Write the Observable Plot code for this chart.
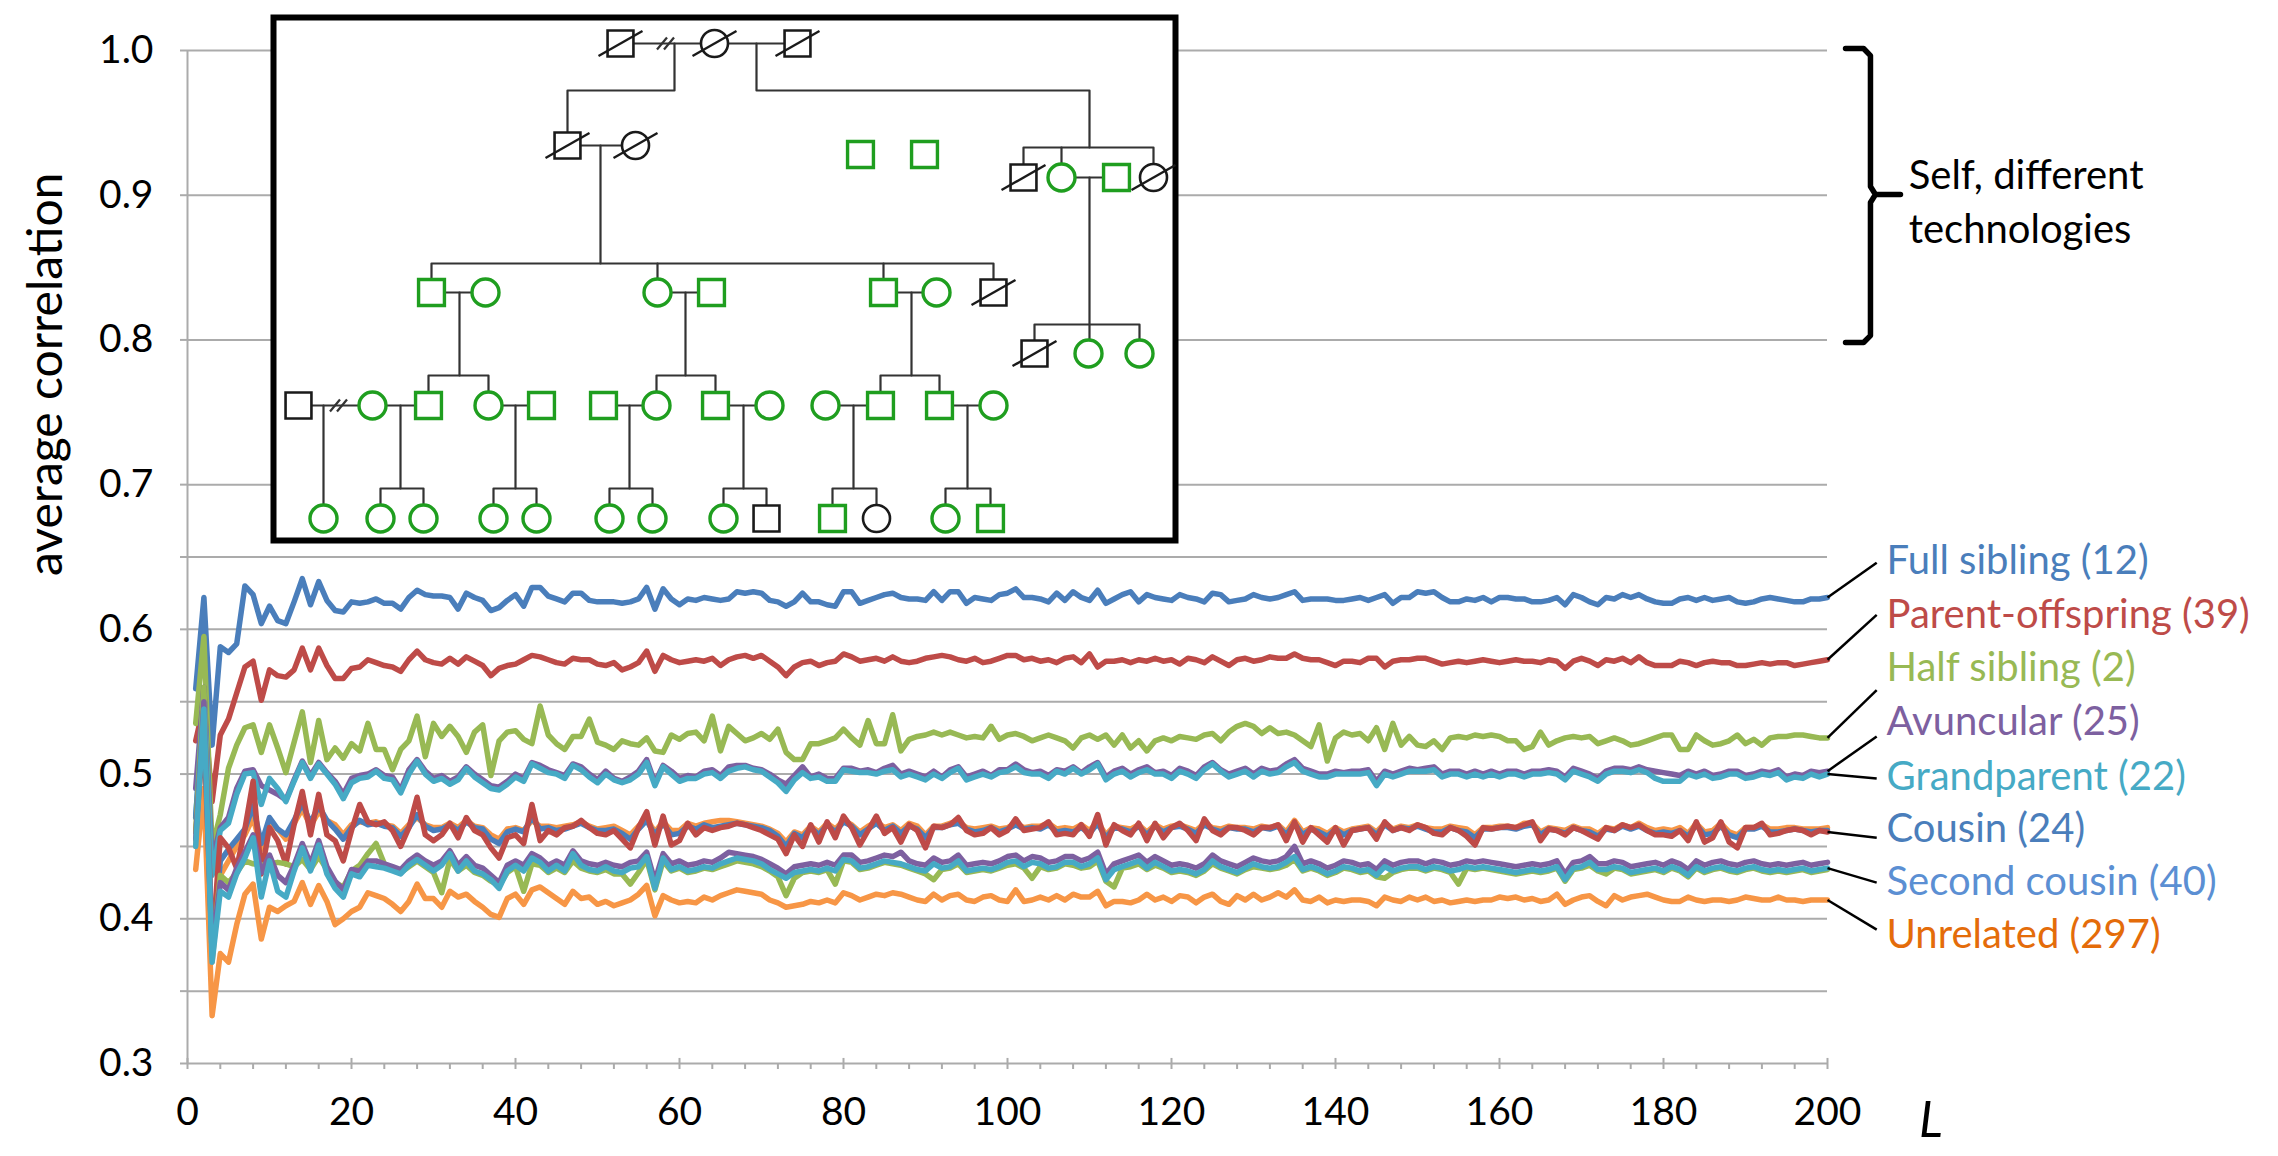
<!DOCTYPE html>
<html><head><meta charset="utf-8">
<script src="https://cdn.jsdelivr.net/npm/d3@7"></script>
<script src="https://cdn.jsdelivr.net/npm/@observablehq/plot@0.6"></script>
<style>
body{margin:0;background:#fff;}
#wrap{position:relative;width:2278px;height:1156px;font-family:Lato,sans-serif;}
#ped{position:absolute;left:273px;top:17px;}
</style></head><body><div id="wrap"><div id="main"></div><div id="ped"></div></div>
<script>
// ---------- data ----------
const L = d3.range(1, 201);

const fullSibling = [
0.559,0.622,0.520,0.588,0.584,0.590,0.630,0.624,0.604,0.616,
0.606,0.604,0.619,0.635,0.617,0.633,0.620,0.613,0.612,0.619,
0.618,0.619,0.621,0.618,0.618,0.614,0.622,0.627,0.624,0.623,
0.623,0.622,0.614,0.625,0.622,0.620,0.613,0.615,0.620,0.624,
0.616,0.629,0.629,0.623,0.621,0.619,0.625,0.625,0.620,0.619,
0.619,0.619,0.618,0.619,0.621,0.629,0.614,0.628,0.621,0.617,
0.621,0.620,0.622,0.621,0.620,0.621,0.626,0.625,0.626,0.625,
0.620,0.619,0.616,0.619,0.625,0.619,0.619,0.617,0.616,0.626,
0.626,0.618,0.620,0.622,0.624,0.625,0.622,0.621,0.621,0.620,
0.626,0.620,0.626,0.626,0.618,0.622,0.621,0.620,0.624,0.625,
0.628,0.622,0.622,0.621,0.619,0.625,0.620,0.626,0.622,0.620,
0.627,0.618,0.621,0.624,0.626,0.619,0.624,0.622,0.621,0.620,
0.624,0.622,0.621,0.619,0.625,0.624,0.619,0.620,0.621,0.624,
0.622,0.621,0.622,0.624,0.626,0.620,0.621,0.621,0.621,0.620,
0.620,0.621,0.622,0.620,0.622,0.624,0.618,0.622,0.622,0.626,
0.625,0.626,0.622,0.619,0.619,0.621,0.620,0.622,0.619,0.622,
0.622,0.621,0.621,0.619,0.619,0.620,0.622,0.617,0.624,0.622,
0.619,0.617,0.622,0.621,0.624,0.622,0.624,0.621,0.619,0.618,
0.618,0.621,0.622,0.620,0.622,0.620,0.621,0.622,0.619,0.618,
0.619,0.621,0.622,0.621,0.620,0.619,0.619,0.621,0.621,0.622];

const parentOffspring = [
0.523,0.548,0.481,0.527,0.538,0.556,0.574,0.578,0.551,0.572,
0.568,0.567,0.572,0.587,0.572,0.587,0.575,0.566,0.566,0.573,
0.574,0.579,0.577,0.575,0.574,0.571,0.579,0.585,0.579,0.577,
0.576,0.580,0.576,0.581,0.578,0.575,0.568,0.573,0.575,0.576,
0.579,0.582,0.581,0.579,0.577,0.576,0.580,0.579,0.579,0.576,
0.575,0.577,0.572,0.574,0.577,0.585,0.571,0.582,0.579,0.577,
0.578,0.579,0.578,0.580,0.575,0.579,0.581,0.582,0.580,0.582,
0.578,0.574,0.568,0.574,0.577,0.578,0.575,0.577,0.578,0.583,
0.581,0.578,0.579,0.580,0.578,0.581,0.578,0.577,0.578,0.580,
0.581,0.582,0.581,0.579,0.578,0.580,0.577,0.578,0.580,0.582,
0.582,0.579,0.580,0.578,0.579,0.577,0.580,0.581,0.577,0.583,
0.574,0.578,0.578,0.579,0.577,0.579,0.578,0.580,0.578,0.579,
0.576,0.580,0.579,0.577,0.581,0.578,0.575,0.579,0.580,0.578,
0.579,0.581,0.580,0.580,0.583,0.580,0.579,0.579,0.577,0.575,
0.578,0.578,0.577,0.580,0.580,0.574,0.578,0.579,0.579,0.580,
0.580,0.578,0.576,0.577,0.578,0.577,0.578,0.579,0.578,0.577,
0.578,0.579,0.578,0.578,0.577,0.579,0.578,0.573,0.578,0.580,
0.578,0.575,0.579,0.578,0.580,0.577,0.581,0.577,0.575,0.575,
0.575,0.578,0.577,0.575,0.577,0.578,0.577,0.577,0.575,0.575,
0.576,0.577,0.576,0.577,0.577,0.575,0.576,0.577,0.578,0.579];

const halfSibling = [
0.535,0.595,0.449,0.472,0.504,0.520,0.532,0.534,0.515,0.534,
0.518,0.501,0.522,0.543,0.508,0.537,0.510,0.518,0.511,0.521,
0.516,0.535,0.517,0.517,0.503,0.517,0.523,0.540,0.512,0.535,
0.526,0.533,0.526,0.515,0.529,0.534,0.499,0.523,0.529,0.530,
0.524,0.521,0.547,0.527,0.521,0.517,0.526,0.526,0.538,0.522,
0.520,0.517,0.523,0.521,0.520,0.525,0.516,0.515,0.527,0.524,
0.528,0.529,0.523,0.540,0.516,0.533,0.528,0.523,0.525,0.528,
0.524,0.531,0.515,0.510,0.510,0.521,0.521,0.523,0.525,0.531,
0.525,0.520,0.537,0.521,0.521,0.541,0.516,0.524,0.526,0.527,
0.529,0.527,0.529,0.527,0.525,0.526,0.525,0.533,0.524,0.527,
0.528,0.526,0.523,0.525,0.527,0.525,0.523,0.518,0.525,0.527,
0.524,0.527,0.520,0.527,0.518,0.523,0.516,0.523,0.525,0.523,
0.526,0.525,0.524,0.527,0.528,0.523,0.529,0.533,0.535,0.533,
0.528,0.532,0.528,0.529,0.527,0.523,0.519,0.534,0.509,0.525,
0.529,0.527,0.528,0.523,0.532,0.517,0.535,0.520,0.526,0.520,
0.519,0.523,0.517,0.525,0.526,0.525,0.527,0.526,0.527,0.526,
0.523,0.523,0.517,0.519,0.529,0.520,0.523,0.525,0.526,0.525,
0.526,0.521,0.523,0.525,0.523,0.520,0.521,0.523,0.525,0.527,
0.527,0.517,0.517,0.527,0.523,0.520,0.521,0.523,0.527,0.521,
0.524,0.520,0.525,0.526,0.526,0.527,0.527,0.526,0.525,0.525];

const avuncular = [
0.490,0.560,0.440,0.463,0.470,0.490,0.502,0.503,0.492,0.489,
0.486,0.482,0.496,0.509,0.499,0.508,0.501,0.495,0.486,0.497,
0.499,0.500,0.503,0.499,0.498,0.489,0.503,0.510,0.502,0.497,
0.499,0.495,0.498,0.505,0.500,0.496,0.492,0.491,0.495,0.500,
0.497,0.508,0.506,0.503,0.501,0.499,0.507,0.505,0.500,0.496,
0.502,0.497,0.495,0.498,0.502,0.510,0.494,0.506,0.502,0.497,
0.499,0.498,0.502,0.503,0.499,0.505,0.506,0.506,0.504,0.503,
0.500,0.496,0.493,0.499,0.505,0.498,0.500,0.497,0.497,0.504,
0.504,0.502,0.503,0.501,0.504,0.506,0.500,0.502,0.500,0.498,
0.502,0.498,0.503,0.505,0.498,0.500,0.502,0.499,0.503,0.503,
0.507,0.503,0.501,0.502,0.499,0.503,0.502,0.505,0.501,0.505,
0.508,0.498,0.502,0.504,0.500,0.503,0.505,0.501,0.502,0.499,
0.504,0.502,0.499,0.505,0.508,0.503,0.500,0.502,0.504,0.500,
0.504,0.502,0.503,0.507,0.510,0.504,0.502,0.500,0.500,0.502,
0.501,0.502,0.502,0.503,0.495,0.502,0.500,0.502,0.504,0.503,
0.504,0.505,0.500,0.502,0.502,0.500,0.502,0.500,0.502,0.500,
0.502,0.502,0.500,0.502,0.502,0.503,0.502,0.498,0.504,0.502,
0.500,0.497,0.502,0.504,0.504,0.503,0.505,0.503,0.502,0.501,
0.500,0.499,0.502,0.500,0.502,0.499,0.500,0.502,0.502,0.499,
0.500,0.502,0.501,0.503,0.498,0.500,0.499,0.502,0.501,0.502];

const grandparent = [
0.470,0.555,0.430,0.461,0.466,0.486,0.500,0.501,0.479,0.497,
0.490,0.481,0.495,0.508,0.497,0.507,0.500,0.493,0.483,0.494,
0.497,0.498,0.502,0.497,0.496,0.487,0.500,0.509,0.500,0.495,
0.497,0.493,0.496,0.504,0.498,0.494,0.490,0.489,0.493,0.498,
0.495,0.507,0.504,0.501,0.500,0.497,0.506,0.503,0.498,0.494,
0.500,0.496,0.494,0.496,0.500,0.508,0.492,0.505,0.500,0.495,
0.497,0.497,0.500,0.501,0.497,0.502,0.504,0.505,0.503,0.502,
0.498,0.494,0.488,0.496,0.501,0.497,0.498,0.495,0.495,0.503,
0.502,0.501,0.501,0.500,0.502,0.503,0.498,0.500,0.498,0.496,
0.500,0.497,0.501,0.504,0.496,0.498,0.500,0.498,0.501,0.502,
0.505,0.501,0.500,0.500,0.497,0.502,0.500,0.504,0.500,0.503,
0.507,0.496,0.500,0.502,0.498,0.501,0.503,0.500,0.500,0.497,
0.502,0.500,0.497,0.503,0.507,0.502,0.498,0.500,0.502,0.498,
0.502,0.500,0.501,0.505,0.508,0.502,0.500,0.498,0.498,0.500,
0.500,0.500,0.500,0.501,0.492,0.500,0.498,0.500,0.502,0.502,
0.502,0.503,0.498,0.500,0.500,0.498,0.500,0.498,0.500,0.498,
0.500,0.500,0.498,0.500,0.500,0.501,0.500,0.496,0.502,0.500,
0.498,0.495,0.500,0.502,0.502,0.501,0.503,0.501,0.497,0.495,
0.495,0.495,0.500,0.498,0.500,0.497,0.498,0.500,0.500,0.497,
0.498,0.500,0.499,0.501,0.496,0.498,0.497,0.500,0.498,0.500];

const cousinRed = [
0.460,0.530,0.380,0.456,0.449,0.435,0.462,0.495,0.431,0.463,
0.454,0.438,0.465,0.488,0.458,0.486,0.458,0.454,0.440,0.461,
0.479,0.467,0.465,0.467,0.461,0.450,0.463,0.484,0.458,0.454,
0.458,0.466,0.456,0.470,0.461,0.458,0.449,0.442,0.456,0.458,
0.452,0.479,0.454,0.461,0.458,0.463,0.464,0.468,0.463,0.459,
0.458,0.461,0.455,0.449,0.463,0.474,0.451,0.471,0.451,0.454,
0.466,0.458,0.463,0.461,0.463,0.464,0.466,0.465,0.463,0.461,
0.458,0.455,0.445,0.458,0.450,0.465,0.453,0.467,0.456,0.471,
0.463,0.451,0.461,0.471,0.459,0.463,0.453,0.465,0.461,0.449,
0.464,0.463,0.465,0.470,0.461,0.458,0.459,0.463,0.458,0.461,
0.469,0.461,0.462,0.463,0.467,0.458,0.459,0.458,0.465,0.457,
0.472,0.451,0.465,0.461,0.458,0.466,0.454,0.466,0.456,0.463,
0.466,0.461,0.454,0.469,0.461,0.458,0.463,0.463,0.461,0.458,
0.463,0.463,0.465,0.454,0.467,0.453,0.463,0.458,0.453,0.463,
0.451,0.461,0.462,0.463,0.455,0.467,0.461,0.463,0.461,0.465,
0.463,0.459,0.458,0.463,0.461,0.457,0.451,0.463,0.462,0.463,
0.464,0.463,0.465,0.467,0.454,0.462,0.461,0.458,0.463,0.461,
0.458,0.455,0.463,0.461,0.465,0.463,0.465,0.461,0.458,0.458,
0.457,0.461,0.454,0.467,0.453,0.456,0.467,0.453,0.449,0.463,
0.463,0.466,0.458,0.459,0.461,0.462,0.461,0.458,0.461,0.460];

const cousinBlue = [
0.470,0.550,0.375,0.440,0.448,0.455,0.462,0.478,0.452,0.470,
0.462,0.458,0.468,0.480,0.466,0.478,0.468,0.462,0.455,0.463,
0.468,0.465,0.466,0.464,0.463,0.457,0.463,0.472,0.464,0.461,
0.462,0.465,0.461,0.467,0.463,0.462,0.455,0.452,0.460,0.462,
0.460,0.470,0.462,0.463,0.461,0.462,0.464,0.466,0.463,0.461,
0.461,0.462,0.459,0.455,0.462,0.468,0.458,0.466,0.458,0.459,
0.464,0.462,0.465,0.463,0.464,0.465,0.466,0.465,0.464,0.463,
0.461,0.457,0.450,0.459,0.456,0.463,0.458,0.465,0.460,0.467,
0.464,0.458,0.462,0.466,0.461,0.464,0.459,0.464,0.462,0.456,
0.463,0.463,0.465,0.466,0.462,0.460,0.461,0.463,0.460,0.462,
0.465,0.462,0.463,0.462,0.465,0.460,0.461,0.460,0.463,0.459,
0.466,0.456,0.463,0.462,0.460,0.464,0.458,0.464,0.460,0.463,
0.464,0.462,0.459,0.465,0.462,0.460,0.463,0.462,0.462,0.460,
0.463,0.462,0.464,0.458,0.466,0.458,0.462,0.460,0.457,0.462,
0.458,0.461,0.462,0.463,0.458,0.465,0.461,0.463,0.462,0.464,
0.462,0.460,0.460,0.463,0.461,0.460,0.456,0.462,0.462,0.463,
0.463,0.462,0.464,0.465,0.458,0.462,0.461,0.459,0.463,0.461,
0.460,0.457,0.462,0.461,0.464,0.462,0.464,0.461,0.459,0.460,
0.459,0.461,0.457,0.465,0.458,0.459,0.464,0.458,0.456,0.462,
0.462,0.464,0.460,0.460,0.461,0.462,0.461,0.460,0.461,0.461];

const cousinOrange = [
0.450,0.540,0.370,0.430,0.440,0.450,0.458,0.470,0.448,0.465,
0.462,0.455,0.466,0.476,0.464,0.474,0.468,0.465,0.458,0.465,
0.467,0.466,0.467,0.465,0.464,0.459,0.465,0.470,0.465,0.463,
0.463,0.466,0.463,0.468,0.464,0.463,0.458,0.455,0.462,0.463,
0.461,0.468,0.464,0.464,0.463,0.464,0.465,0.467,0.464,0.462,
0.463,0.464,0.461,0.458,0.464,0.469,0.460,0.467,0.461,0.461,
0.466,0.464,0.466,0.467,0.468,0.468,0.467,0.466,0.465,0.464,
0.462,0.459,0.453,0.460,0.458,0.464,0.460,0.466,0.462,0.468,
0.465,0.460,0.464,0.467,0.463,0.465,0.461,0.466,0.464,0.458,
0.464,0.464,0.466,0.467,0.463,0.462,0.463,0.464,0.462,0.463,
0.466,0.463,0.464,0.464,0.466,0.462,0.463,0.462,0.465,0.461,
0.467,0.458,0.464,0.463,0.462,0.465,0.460,0.465,0.462,0.464,
0.465,0.463,0.461,0.466,0.463,0.462,0.464,0.463,0.463,0.462,
0.464,0.463,0.465,0.460,0.468,0.460,0.463,0.462,0.459,0.463,
0.460,0.462,0.463,0.464,0.460,0.466,0.462,0.464,0.463,0.465,
0.463,0.462,0.462,0.464,0.463,0.462,0.458,0.463,0.463,0.464,
0.464,0.463,0.466,0.466,0.460,0.463,0.462,0.461,0.464,0.462,
0.462,0.459,0.463,0.462,0.465,0.463,0.466,0.463,0.461,0.462,
0.461,0.463,0.459,0.466,0.460,0.461,0.466,0.460,0.458,0.463,
0.463,0.465,0.462,0.462,0.463,0.463,0.462,0.462,0.462,0.463];

const secondCousinAqua = [
0.450,0.545,0.370,0.419,0.415,0.431,0.442,0.456,0.415,0.440,
0.419,0.415,0.433,0.449,0.433,0.451,0.431,0.421,0.415,0.431,
0.429,0.437,0.436,0.435,0.433,0.431,0.437,0.441,0.437,0.433,
0.437,0.445,0.433,0.440,0.433,0.431,0.427,0.421,0.433,0.437,
0.433,0.442,0.439,0.433,0.437,0.433,0.445,0.437,0.434,0.433,
0.436,0.433,0.432,0.435,0.436,0.443,0.421,0.442,0.434,0.436,
0.433,0.434,0.436,0.435,0.438,0.440,0.442,0.441,0.440,0.438,
0.434,0.431,0.428,0.432,0.433,0.434,0.433,0.435,0.433,0.441,
0.440,0.435,0.436,0.438,0.440,0.439,0.438,0.436,0.434,0.433,
0.438,0.435,0.436,0.440,0.433,0.434,0.435,0.434,0.436,0.439,
0.440,0.436,0.439,0.438,0.435,0.436,0.439,0.439,0.436,0.438,
0.442,0.427,0.434,0.436,0.438,0.440,0.435,0.439,0.436,0.433,
0.434,0.433,0.431,0.434,0.440,0.436,0.434,0.432,0.435,0.438,
0.436,0.435,0.436,0.439,0.443,0.434,0.436,0.434,0.431,0.433,
0.436,0.435,0.433,0.434,0.430,0.436,0.433,0.435,0.436,0.436,
0.434,0.436,0.435,0.433,0.434,0.436,0.435,0.436,0.435,0.434,
0.433,0.432,0.433,0.434,0.433,0.434,0.436,0.427,0.435,0.436,
0.439,0.434,0.434,0.436,0.435,0.432,0.433,0.434,0.435,0.433,
0.436,0.434,0.430,0.436,0.433,0.435,0.436,0.434,0.433,0.435,
0.436,0.434,0.433,0.434,0.433,0.434,0.435,0.433,0.434,0.435];

const secondCousinPurple = [
0.455,0.550,0.380,0.425,0.420,0.435,0.446,0.458,0.432,0.444,
0.430,0.425,0.437,0.452,0.438,0.454,0.436,0.426,0.420,0.434,
0.433,0.440,0.440,0.438,0.436,0.434,0.440,0.444,0.440,0.437,
0.440,0.447,0.437,0.443,0.437,0.435,0.430,0.425,0.437,0.440,
0.437,0.445,0.442,0.437,0.440,0.437,0.447,0.440,0.438,0.437,
0.439,0.437,0.436,0.439,0.440,0.446,0.426,0.445,0.438,0.440,
0.437,0.438,0.440,0.439,0.442,0.446,0.445,0.444,0.443,0.441,
0.438,0.435,0.431,0.436,0.437,0.438,0.437,0.439,0.437,0.444,
0.444,0.439,0.440,0.442,0.444,0.443,0.446,0.440,0.438,0.437,
0.442,0.439,0.440,0.444,0.437,0.438,0.439,0.438,0.440,0.443,
0.444,0.440,0.443,0.442,0.439,0.440,0.443,0.443,0.440,0.442,
0.446,0.431,0.438,0.440,0.442,0.444,0.439,0.443,0.440,0.437,
0.438,0.437,0.435,0.438,0.444,0.440,0.438,0.436,0.439,0.442,
0.440,0.439,0.440,0.443,0.450,0.438,0.440,0.438,0.435,0.437,
0.440,0.439,0.437,0.438,0.434,0.440,0.437,0.439,0.440,0.440,
0.438,0.440,0.439,0.437,0.438,0.440,0.439,0.440,0.439,0.438,
0.437,0.436,0.437,0.438,0.437,0.438,0.440,0.431,0.439,0.440,
0.443,0.438,0.438,0.440,0.439,0.436,0.437,0.438,0.439,0.437,
0.440,0.438,0.434,0.440,0.437,0.439,0.440,0.438,0.437,0.439,
0.440,0.438,0.437,0.438,0.437,0.438,0.439,0.437,0.438,0.439];

const secondCousinGreen = [
0.460,0.560,0.375,0.430,0.425,0.432,0.440,0.438,0.437,0.438,
0.439,0.438,0.436,0.441,0.434,0.443,0.434,0.425,0.422,0.433,
0.437,0.445,0.452,0.438,0.434,0.432,0.436,0.440,0.436,0.432,
0.418,0.441,0.433,0.437,0.432,0.430,0.426,0.423,0.432,0.436,
0.419,0.438,0.437,0.432,0.435,0.432,0.440,0.435,0.433,0.432,
0.434,0.431,0.431,0.424,0.432,0.441,0.420,0.440,0.433,0.435,
0.432,0.433,0.435,0.434,0.436,0.438,0.440,0.439,0.438,0.436,
0.433,0.429,0.416,0.428,0.432,0.433,0.432,0.434,0.424,0.440,
0.439,0.434,0.435,0.437,0.439,0.438,0.437,0.435,0.433,0.431,
0.427,0.434,0.435,0.438,0.432,0.433,0.434,0.433,0.435,0.437,
0.438,0.435,0.428,0.436,0.434,0.435,0.438,0.437,0.435,0.436,
0.440,0.426,0.422,0.435,0.436,0.438,0.434,0.437,0.435,0.432,
0.433,0.432,0.430,0.433,0.438,0.435,0.433,0.431,0.434,0.436,
0.435,0.434,0.435,0.437,0.441,0.433,0.435,0.433,0.430,0.432,
0.435,0.434,0.432,0.433,0.429,0.428,0.432,0.434,0.435,0.435,
0.433,0.435,0.434,0.432,0.424,0.435,0.434,0.435,0.434,0.433,
0.432,0.431,0.432,0.433,0.432,0.433,0.435,0.426,0.434,0.435,
0.437,0.433,0.431,0.435,0.434,0.431,0.432,0.433,0.434,0.432,
0.435,0.433,0.429,0.435,0.432,0.434,0.435,0.433,0.432,0.434,
0.435,0.433,0.432,0.433,0.432,0.433,0.434,0.432,0.433,0.434];

const unrelated = [
0.434,0.490,0.333,0.376,0.370,0.396,0.417,0.424,0.386,0.408,
0.405,0.409,0.412,0.425,0.410,0.423,0.412,0.396,0.400,0.405,
0.408,0.418,0.416,0.414,0.410,0.405,0.412,0.424,0.414,0.414,
0.408,0.419,0.415,0.417,0.412,0.408,0.403,0.401,0.414,0.417,
0.410,0.420,0.422,0.418,0.414,0.410,0.419,0.414,0.415,0.410,
0.412,0.409,0.411,0.413,0.417,0.423,0.402,0.416,0.413,0.411,
0.412,0.411,0.415,0.413,0.416,0.418,0.420,0.419,0.418,0.417,
0.413,0.411,0.408,0.409,0.410,0.412,0.411,0.413,0.411,0.418,
0.416,0.413,0.415,0.417,0.416,0.418,0.417,0.415,0.413,0.412,
0.417,0.413,0.416,0.417,0.413,0.412,0.415,0.416,0.413,0.412,
0.420,0.412,0.413,0.415,0.413,0.416,0.413,0.417,0.415,0.415,
0.419,0.409,0.412,0.412,0.411,0.413,0.417,0.413,0.415,0.412,
0.416,0.415,0.411,0.415,0.417,0.412,0.410,0.416,0.413,0.417,
0.413,0.415,0.418,0.415,0.420,0.413,0.412,0.415,0.411,0.413,
0.412,0.413,0.413,0.412,0.409,0.415,0.413,0.412,0.415,0.413,
0.415,0.412,0.413,0.411,0.412,0.413,0.412,0.413,0.413,0.415,
0.414,0.415,0.413,0.414,0.412,0.413,0.417,0.410,0.413,0.415,
0.416,0.412,0.409,0.416,0.413,0.415,0.416,0.417,0.415,0.413,
0.412,0.412,0.415,0.413,0.412,0.413,0.413,0.412,0.413,0.415,
0.414,0.413,0.413,0.415,0.413,0.413,0.412,0.413,0.413,0.413];

// series in drawing order
const seriesKeys = ["fs","po","hs","av","gp","un","co","cb","cr","scg","scp","scc"];
const seriesValues = [fullSibling, parentOffspring, halfSibling, avuncular, grandparent, unrelated,
  cousinOrange, cousinBlue, cousinRed, secondCousinGreen, secondCousinPurple, secondCousinAqua];

const relationLabels = ["Full sibling (12)","Parent-offspring (39)","Half sibling (2)","Avuncular (25)",
  "Grandparent (22)","Cousin (24)","Second cousin (40)","Unrelated (297)"];
const labelSeries = [fullSibling, parentOffspring, halfSibling, avuncular, grandparent, cousinRed, secondCousinAqua, unrelated];

const gridValues = [0.3,0.35,0.4,0.45,0.5,0.55,0.6,0.65,0.7,0.8,0.9,1.0];
const xTicks = d3.range(0, 201, 4);
const xMajor = d3.range(0, 201, 20);

// ---------- styles / layout ----------
const BLUE="#4A7EBB", RED="#BE4B48", GREEN="#98B954", PURPLE="#7D60A0", AQUA="#46AAC5", ORANGE="#F79646";
const lineColor = {fs:BLUE, po:RED, hs:GREEN, av:PURPLE, gp:AQUA, un:ORANGE, co:ORANGE, cb:BLUE, cr:RED, scg:GREEN, scp:PURPLE, scc:AQUA};
const labelColors = ["#4A7EBB","#BE4B48","#98B954","#7D60A0","#46AAC5","#4A7EBB","#5B8FD3","#E46C0A"];
const labelY  = [0.647,0.610,0.573,0.536,0.498,0.462,0.425,0.389];
const leaderY = [0.646,0.610,0.558,0.526,0.497,0.456,0.425,0.3925];
const brace = [
  {x:202.2,y:1.0014},{x:204.4,y:1.0014},{x:205.24,y:0.9965},{x:205.24,y:0.9060},{x:205.85,y:0.9005},
  {x:208.9,y:0.9005},{x:205.85,y:0.9005},{x:205.24,y:0.8950},{x:205.24,y:0.8030},{x:204.4,y:0.7982},{x:202.2,y:0.7982}];

const rows = seriesKeys.flatMap((k, si) => seriesValues[si].map((v, i) => ({series: k, L: L[i], v})));
const labelRows = relationLabels.map((name, i) => ({
  name, color: labelColors[i], yText: labelY[i], yLead: leaderY[i], yEnd: labelSeries[i][labelSeries[i].length - 1]
}));

const isTenth = d => Math.abs(d * 10 - Math.round(d * 10)) < 1e-9;

const main = Plot.plot({
  width: 2278, height: 1156,
  marginLeft: 187, marginRight: 451, marginTop: 50, marginBottom: 93,
  x: {domain: [0, 200]},
  y: {domain: [0.3, 1.0]},
  style: {fontFamily: "Lato, sans-serif", background: "white", overflow: "visible", color: "black"},
  marks: [
    Plot.ruleY(gridValues, {stroke: "#ababab", strokeWidth: 2}),
    Plot.ruleX([0], {stroke: "#ababab", strokeWidth: 2}),
    Plot.axisY({ticks: gridValues, tickSize: 7, tickPadding: 27, tickFormat: d => isTenth(d) ? d3.format(".1f")(d) : "",
      fontSize: 39, stroke: "#ababab", strokeWidth: 2, fill: "black", label: null}),
    Plot.axisX({ticks: xTicks, tickSize: 6, tickPadding: 28, tickFormat: d => d % 20 === 0 ? String(d) : "",
      fontSize: 39, stroke: "#ababab", strokeWidth: 2, fill: "black", label: null}),
    Plot.ruleX(xMajor, {y1: 0.3, y2: 0.3035, stroke: "#ababab", strokeWidth: 2}),
    Plot.text(["average correlation"], {frameAnchor: "left", dx: -141, dy: 19, rotate: -90, fontSize: 48, fill: "black"}),
    Plot.text(["L"], {x: 212.6, y: 0.2605, fontSize: 50, fontStyle: "italic", fill: "black"}),
    Plot.line(rows, {x: "L", y: "v", z: "series", stroke: d => lineColor[d.series], strokeWidth: 5.5,
      strokeLinejoin: "round", strokeLinecap: "round"}),
    Plot.link(labelRows, {x1: 200, y1: "yEnd", x2: 206, y2: "yLead", stroke: "black", strokeWidth: 2.5}),
    Plot.text(labelRows, {x: 207.2, y: "yText", text: "name", fill: "color", textAnchor: "start", fontSize: 40}),
    Plot.line(brace, {x: "x", y: "y", stroke: "black", strokeWidth: 5.5, strokeLinejoin: "round"}),
    Plot.text(["Self, different\ntechnologies"], {x: 209.9, y: 0.8977, textAnchor: "start", lineAnchor: "middle",
      lineHeight: 1.35, fontSize: 40, fill: "black"})
  ]
});
document.getElementById("main").appendChild(main);

// ---------- pedigree inset ----------
const P = (x, y, sex, tested, dead) => ({x, y, sex, tested, dead});
const pedNodes = [
  P(620,43,"M",false,true), P(714,43,"F",false,true), P(797,43,"M",false,true),
  P(567,145,"M",false,true), P(635,145,"F",false,true), P(860,154,"M",true,false), P(924,154,"M",true,false),
  P(1023,177,"M",false,true), P(1061,177,"F",true,false), P(1116,177,"M",true,false), P(1153,177,"F",false,true),
  P(431,292,"M",true,false), P(485,292,"F",true,false), P(657,292,"F",true,false), P(711,292,"M",true,false),
  P(883,292,"M",true,false), P(936,292,"F",true,false), P(993,292,"M",false,true),
  P(1034,353,"M",false,true), P(1088,353,"F",true,false), P(1139,353,"F",true,false),
  P(298,405,"M",false,false), P(372,405,"F",true,false), P(428,405,"M",true,false), P(488,405,"F",true,false),
  P(541,405,"M",true,false), P(603,405,"M",true,false), P(656,405,"F",true,false), P(715,405,"M",true,false),
  P(769,405,"F",true,false), P(825,405,"F",true,false), P(880,405,"M",true,false), P(939,405,"M",true,false),
  P(993,405,"F",true,false),
  P(323,518,"F",true,false), P(380,518,"F",true,false), P(423,518,"F",true,false), P(493,518,"F",true,false),
  P(536,518,"F",true,false), P(609,518,"F",true,false), P(652,518,"F",true,false), P(723,518,"F",true,false),
  P(766,518,"M",false,false), P(832,518,"M",true,false), P(876,518,"F",false,false), P(945,518,"F",true,false),
  P(990,518,"M",true,false)
];
const pedLines = [
  [[633,43],[700,43]], [[727,43],[784,43]],
  [[674,43],[674,90],[567,90],[567,131]],
  [[756,43],[756,90],[1089,90],[1089,147]],
  [[580,145],[622,145]], [[600,145],[600,263]],
  [[1023,164],[1023,147],[1153,147],[1153,164]], [[1061,147],[1061,164]],
  [[1074,177],[1103,177]], [[1089,177],[1089,340]],
  [[1034,340],[1034,324],[1139,324],[1139,340]],
  [[431,279],[431,263],[993,263],[993,279]], [[657,263],[657,279]], [[883,263],[883,279]],
  [[444,292],[472,292]], [[670,292],[698,292]], [[896,292],[923,292]],
  [[459,292],[459,375]], [[428,392],[428,375],[488,375],[488,392]],
  [[685,292],[685,375]], [[656,392],[656,375],[715,375],[715,392]],
  [[911,292],[911,375]], [[880,392],[880,375],[939,375],[939,392]],
  [[311,405],[359,405]], [[323,405],[323,505]],
  [[385,405],[415,405]], [[400,405],[400,488]], [[380,505],[380,488],[423,488],[423,505]],
  [[501,405],[528,405]], [[515,405],[515,488]], [[493,505],[493,488],[536,488],[536,505]],
  [[616,405],[643,405]], [[629,405],[629,488]], [[609,505],[609,488],[652,488],[652,505]],
  [[728,405],[756,405]], [[743,405],[743,488]], [[723,505],[723,488],[766,488],[766,505]],
  [[838,405],[867,405]], [[853,405],[853,488]], [[832,505],[832,488],[876,488],[876,505]],
  [[952,405],[980,405]], [[967,405],[967,488]], [[945,505],[945,488],[990,488],[990,505]]
];
const divorces = [{x:665, y:43}, {x:338, y:405}];

const pedRows = pedLines.flatMap((pts, id) => pts.map(([x, y]) => ({id, x, y})));
const slashes = divorces.flatMap(d => [-3.5, 3.5].map(o => ({x: d.x + o, y: d.y})));
const GREENP = "#1f9e1f", INK = "#1a1a1a";

const ped = Plot.plot({
  width: 902, height: 523, margin: 0,
  x: {domain: [273, 1175], range: [0, 902], axis: null},
  y: {domain: [17, 540], range: [0, 523], axis: null},
  style: {overflow: "visible", background: "transparent"},
  marks: [
    Plot.frame({fill: "white", stroke: "black", strokeWidth: 6}),
    Plot.line(pedRows, {x: "x", y: "y", z: "id", stroke: "#333", strokeWidth: 2.2}),
    Plot.link(slashes, {x1: d => d.x - 5, y1: d => d.y + 6, x2: d => d.x + 5, y2: d => d.y - 6, stroke: "#333", strokeWidth: 2.2}),
    Plot.dot(pedNodes.filter(d => d.sex === "M"), {x: "x", y: "y", symbol: "square", r: 14.6, fill: "white",
      stroke: d => d.tested ? GREENP : INK, strokeWidth: d => d.tested ? 3.4 : 2.6}),
    Plot.dot(pedNodes.filter(d => d.sex === "F"), {x: "x", y: "y", r: 13.5, fill: "white",
      stroke: d => d.tested ? GREENP : INK, strokeWidth: d => d.tested ? 3.4 : 2.6}),
    Plot.link(pedNodes.filter(d => d.dead), {x1: d => d.x - 22, y1: d => d.y + 12.5, x2: d => d.x + 22, y2: d => d.y - 12.5,
      stroke: INK, strokeWidth: 2.4})
  ]
});
document.getElementById("ped").appendChild(ped);
</script></body></html>
